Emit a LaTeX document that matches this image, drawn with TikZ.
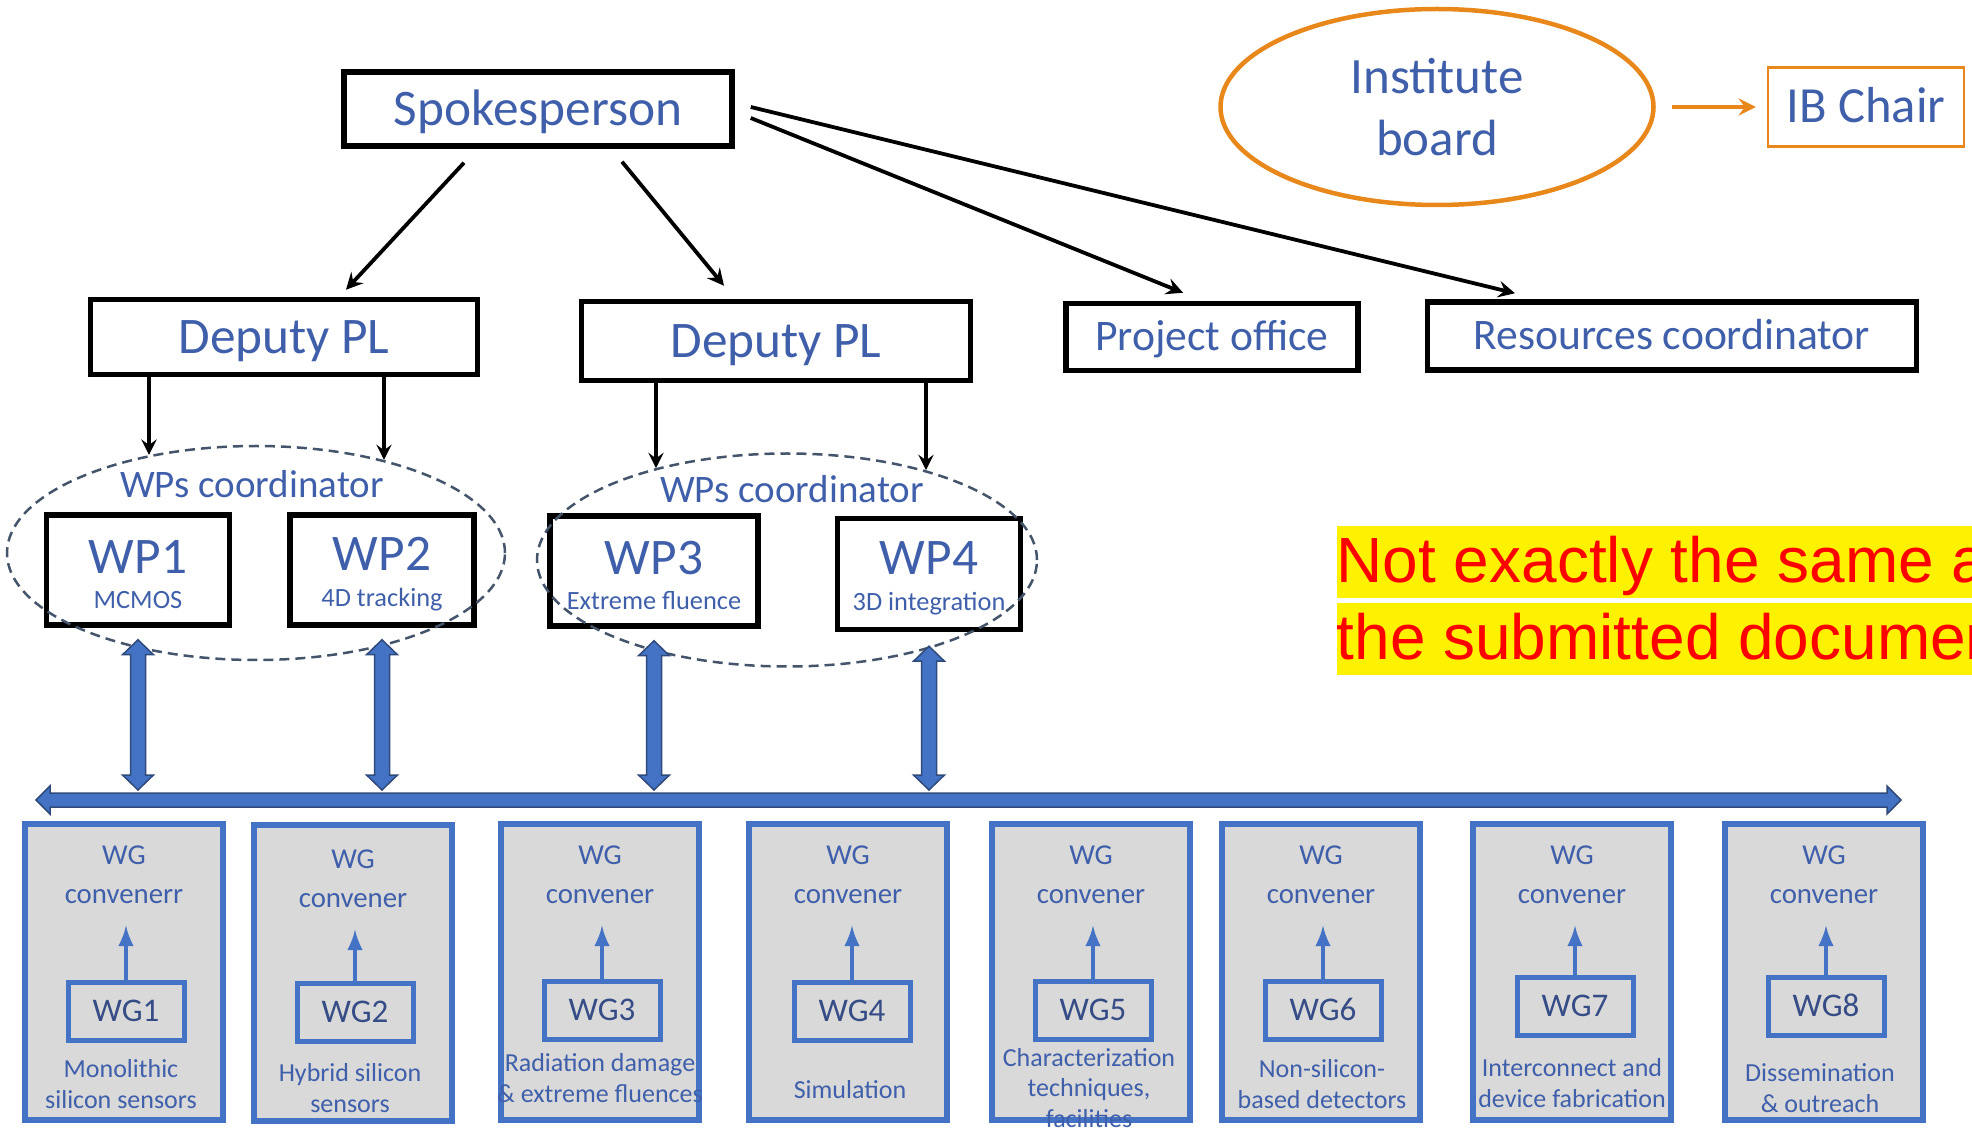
\documentclass[tikz,border=0pt]{standalone}
\usepackage{fontspec}
\setmainfont{Carlito}
\newfontfamily\notefont{Liberation Sans}
\usetikzlibrary{shapes.geometric,calc}

\definecolor{txtblue}{HTML}{3F5FAA}
\definecolor{wgdark}{HTML}{364C86}
\definecolor{wgline}{HTML}{4472C4}
\definecolor{wgfill}{HTML}{D9D9D9}
\definecolor{busedge}{HTML}{2F4B7C}
\definecolor{iborange}{HTML}{E8871A}
\definecolor{ringgray}{HTML}{44546A}

\newcommand{\wpname}[1]{{\fontsize{14.6}{17}\selectfont\rule{0pt}{12pt}#1}}

\begin{document}
\begin{tikzpicture}[x=0.1mm,y=-0.1mm,>=stealth,
  blackbox/.style={draw,line width=0.55mm,text=txtblue,inner sep=0pt},
  bigbox/.style={blackbox,font=\fontsize{14.6}{17}\selectfont,text height=9.2pt,text depth=0pt},
  offbox/.style={blackbox,font=\fontsize{12.4}{15}\selectfont,text height=7.8pt,text depth=0pt},
  wpbox/.style={blackbox,align=center,font=\fontsize{7.5}{10.2}\selectfont},
  wpring/.style={ellipse,draw=ringgray,line width=0.25mm,dash pattern=on 1mm off 0.6mm},
  ringlabel/.style={text=txtblue,font=\fontsize{11.1}{13}\selectfont,anchor=base,inner sep=0pt},
  link/.style={->,line width=0.38mm},
  wglink/.style={->,line width=0.32mm},
  vbus/.style={draw=busedge,fill=wgline,line width=0.15mm,
    to path={let \p1=(\tikztostart), \p2=(\tikztotarget) in
      (\x1,\y1) -- ++(1.55mm,-1.5mm) -- ++(-0.8mm,0) -- (\x2+0.75mm,\y2+1.5mm) -- ++(0.8mm,0)
      -- (\x2,\y2) -- ++(-1.55mm,1.5mm) -- ++(0.8mm,0) -- (\x1-0.75mm,\y1-1.5mm) -- ++(-0.8mm,0) -- cycle}},
  hbus/.style={draw=busedge,fill=wgline,line width=0.15mm,
    to path={let \p1=(\tikztostart), \p2=(\tikztotarget) in
      (\x1,\y1) -- ++(1.4mm,1.4mm) -- ++(0,-0.7mm) -- (\x2-1.4mm,\y2+0.7mm) -- ++(0,0.7mm)
      -- (\x2,\y2) -- ++(-1.4mm,-1.4mm) -- ++(0,0.7mm) -- (\x1+1.4mm,\y1-0.7mm) -- ++(0,-0.7mm) -- cycle}},
  wgbox/.style={draw=wgline,fill=wgfill,line width=0.6mm,minimum width=19.8mm,minimum height=29.6mm,inner sep=0pt},
  wghead/.style={text=txtblue,align=center,inner sep=0pt,font=\fontsize{8.2}{11.1}\selectfont},
  wgin/.style={draw=wgline,fill=wgfill,line width=0.5mm,minimum width=11.6mm,minimum height=5.8mm,inner sep=0pt,
    text=wgdark,font=\fontsize{9.4}{11}\selectfont,text height=5.9pt,text depth=0pt},
  wgdesc/.style={text=txtblue,align=center,inner sep=0pt,font=\fontsize{7.4}{8.8}\selectfont},
  wgarrow/.style={-latex,draw=wgline,line width=0.35mm,shorten >=2.1mm},
  note/.style={fill=yellow,text=red,anchor=west,inner xsep=0pt,inner ysep=0pt,
    font=\notefont\fontsize{18.2}{22}\selectfont,text height=5.7mm,text depth=1.5mm}]
  \useasboundingbox (0,0) rectangle (1972,1131);
  \clip (0,0) rectangle (1972,1131);

  % Management line.
  \node[bigbox,minimum width=38.8mm,minimum height=7.4mm] (spk) at (538,109) {Spokesperson};
  \node[bigbox,minimum width=38.7mm,minimum height=7.5mm] (dep1) at (284,337) {Deputy PL};
  \node[bigbox,minimum width=38.9mm,minimum height=7.9mm] (dep2) at (776,341) {Deputy PL};
  \node[offbox,minimum width=29.2mm,minimum height=6.7mm] (po) at (1212,337) {Project office};
  \node[offbox,minimum width=48.9mm,minimum height=6.8mm] (rc) at (1672,336) {Resources coordinator};

  \draw[link] ([xshift=-7.4mm,yshift=-1.4mm]spk.south) -- ([xshift=6.2mm,yshift=0.7mm]dep1.north);
  \draw[link] ([xshift=8.4mm,yshift=-1.3mm]spk.south) -- ([xshift=-5.2mm,yshift=1.3mm]dep2.north);
  \draw[link] ([xshift=1.6mm,yshift=-0.9mm]spk.east) -- ([xshift=-2.9mm,yshift=0.8mm]po.north);
  \draw[link] ([xshift=1.6mm,yshift=0.2mm]spk.east) -- ([xshift=-15.7mm,yshift=0.6mm]rc.north);

  % Institute board.
  \node[ellipse,draw=iborange,line width=0.45mm,minimum width=43.3mm,minimum height=19.6mm,align=center,
    text=txtblue,font=\fontsize{14.5}{17.6}\selectfont] (ib) at (1437,107) {Institute\\board};
  \node[draw=iborange,line width=0.25mm,minimum width=19.6mm,minimum height=7.9mm,inner sep=0pt,text=txtblue,
    font=\fontsize{14.4}{17}\selectfont,text height=9.1pt,text depth=0pt] (ibc) at (1866,107) {IB Chair};
  \draw[->,iborange,line width=0.4mm,shorten <=1.6mm,shorten >=1.1mm] (ib) -- (ibc);

  % Work packages.
  \node[wpbox,minimum width=18.3mm,minimum height=11mm] (wp1) at (138,570) {\wpname{WP1}\\MCMOS};
  \node[wpbox,minimum width=18.4mm,minimum height=11mm] (wp2) at (382,570) {\wpname{WP2}\\4D tracking};
  \node[wpbox,minimum width=20.8mm,minimum height=11mm] (wp3) at (654,571) {\wpname{WP3}\\Extreme fluence};
  \node[wpbox,minimum width=18.3mm,minimum height=11.1mm] (wp4) at (929,574) {\wpname{WP4}\\3D integration};

  \node[wpring,minimum width=49.8mm,minimum height=21.4mm] (wpc1) at (256,553) {};
  \node[wpring,minimum width=50mm,minimum height=21.3mm] (wpc2) at (787,560) {};
  \node[ringlabel] (wpl1) at (252,498) {WPs coordinator};
  \node[ringlabel] (wpl2) at (792,503) {WPs coordinator};

  \draw[wglink] ([xshift=-13.5mm]dep1.south) -- ([xshift=-13.5mm]dep1.south |- wpc1.137);
  \draw[wglink] ([xshift=10mm]dep1.south) -- ([xshift=10mm]dep1.south |- wpc1.36);
  \draw[wglink] ([xshift=-12mm]dep2.south) -- ([xshift=-12mm]dep2.south |- wpc2.145);
  \draw[wglink] ([xshift=15mm]dep2.south) -- ([xshift=15mm]dep2.south |- wpc2.33);

  % Links down to the working groups.
  \coordinate (busL) at (36,800);
  \coordinate (busR) at (1901,800);
  \coordinate (wp1t) at ([yshift=-1.2mm]wp1.south);
  \coordinate (wp2t) at ([yshift=-1.2mm]wp2.south);
  \coordinate (wp3t) at ([yshift=-1.2mm]wp3.south);
  \coordinate (wp4t) at ([yshift=-1.4mm]wp4.south);
  \coordinate (wp1b) at ([yshift=1mm]wp1t |- busL);
  \coordinate (wp2b) at ([yshift=1mm]wp2t |- busL);
  \coordinate (wp3b) at ([yshift=1mm]wp3t |- busL);
  \coordinate (wp4b) at ([yshift=1mm]wp4t |- busL);
  \draw[vbus] (wp1t) to (wp1b);
  \draw[vbus] (wp2t) to (wp2b);
  \draw[vbus] (wp3t) to (wp3b);
  \draw[vbus] (wp4t) to (wp4b);
  \draw[hbus] (busL) to (busR);

  % Working groups.
  \node[wgbox] (wg1) at (124,972) {};
  \node[wghead] (wgc1) at (124,875) {WG\\convenerr};
  \node[wgin] (wgn1) at (126,1011) {WG1};
  \node[wgdesc] (wgd1) at (121,1084) {Monolithic\\silicon sensors};
  \draw[wgarrow] (wgn1.north) -- (wgn1.north |- wgc1.south);

  \node[wgbox] (wg2) at (353,973) {};
  \node[wghead] (wgc2) at (353,879) {WG\\convener};
  \node[wgin] (wgn2) at (355,1012) {WG2};
  \node[wgdesc] (wgd2) at (350,1088) {Hybrid silicon\\sensors};
  \draw[wgarrow] (wgn2.north) -- (wgn2.north |- wgc2.south);

  \node[wgbox] (wg3) at (600,972) {};
  \node[wghead] (wgc3) at (600,875) {WG\\convener};
  \node[wgin] (wgn3) at (602,1010) {WG3};
  \node[wgdesc] (wgd3) at (600,1078) {Radiation damage\\\& extreme fluences};
  \draw[wgarrow] (wgn3.north) -- (wgn3.north |- wgc3.south);

  \node[wgbox] (wg4) at (848,972) {};
  \node[wghead] (wgc4) at (848,875) {WG\\convener};
  \node[wgin] (wgn4) at (852,1011) {WG4};
  \node[wgdesc] (wgd4) at (850,1090) {Simulation};
  \draw[wgarrow] (wgn4.north) -- (wgn4.north |- wgc4.south);

  \node[wgbox] (wg5) at (1091,972) {};
  \node[wghead] (wgc5) at (1091,875) {WG\\convener};
  \node[wgin] (wgn5) at (1093,1010) {WG5};
  \node[wgdesc] (wgd5) at (1089,1088) {Characterization\\techniques,\\facilities};
  \draw[wgarrow] (wgn5.north) -- (wgn5.north |- wgc5.south);

  \node[wgbox] (wg6) at (1321,972) {};
  \node[wghead] (wgc6) at (1321,875) {WG\\convener};
  \node[wgin] (wgn6) at (1323,1010) {WG6};
  \node[wgdesc] (wgd6) at (1322,1084) {Non-silicon-\\based detectors};
  \draw[wgarrow] (wgn6.north) -- (wgn6.north |- wgc6.south);

  \node[wgbox] (wg7) at (1572,972) {};
  \node[wghead] (wgc7) at (1572,875) {WG\\convener};
  \node[wgin] (wgn7) at (1575,1006) {WG7};
  \node[wgdesc] (wgd7) at (1572,1083) {Interconnect and\\device fabrication};
  \draw[wgarrow] (wgn7.north) -- (wgn7.north |- wgc7.south);

  \node[wgbox] (wg8) at (1824,972) {};
  \node[wghead] (wgc8) at (1824,875) {WG\\convener};
  \node[wgin] (wgn8) at (1826,1006) {WG8};
  \node[wgdesc] (wgd8) at (1820,1088) {Dissemination\\\& outreach};
  \draw[wgarrow] (wgn8.north) -- (wgn8.north |- wgc8.south);

  % Note, cut at the right edge as in the slide.
  \node[note] (note1) at (1336,562) {Not exactly the same as};
  \node[note] (note2) at (1336,639) {the submitted document};
\end{tikzpicture}
\end{document}
